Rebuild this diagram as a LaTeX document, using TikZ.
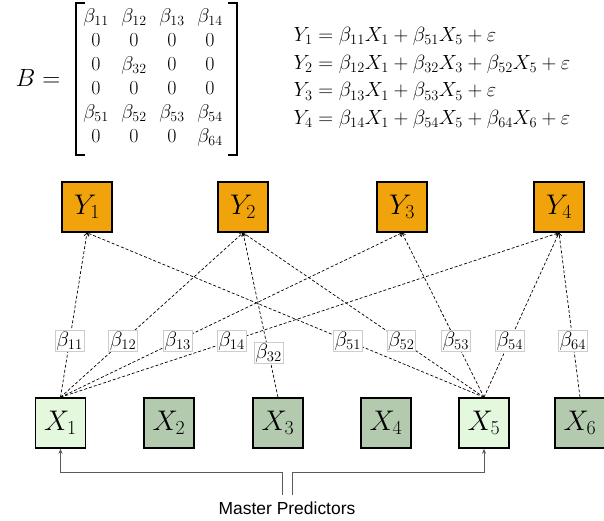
\RequirePackage{fix-cm}
\documentclass[tikz,border=0pt]{standalone}
\usepackage{fontspec}
\setsansfont{Liberation Sans}
\usetikzlibrary{arrows.meta,matrix}

\definecolor{yorange}{HTML}{F0A30A}
\definecolor{xlight}{HTML}{E3F8DC}
\definecolor{xdark}{HTML}{B3CAAE}
\definecolor{feedgray}{HTML}{5A5A5A}

\begin{document}
\begin{tikzpicture}[x=1bp,y=-1bp,
  box/.style={draw=black, line width=1.5bp, minimum width=50bp, minimum height=50bp,
    inner sep=0pt, font=\fontsize{28.5}{32}\selectfont},
  ybox/.style={box, fill=yorange},
  xmaster/.style={box, fill=xlight},
  xother/.style={box, fill=xdark},
  coef/.style={solid, fill=white, draw=gray!40, line width=0.5bp, inner sep=1.2bp,
    font=\fontsize{21}{24}\selectfont},
  link/.style={draw=black, line width=0.7bp, dash pattern=on 3bp off 2bp,
    -{To[length=3.5bp,width=5bp]}},
  feed/.style={draw=feedgray, line width=1bp, -{Stealth[length=5bp,width=4bp]}},
  bracket/.style={draw=black, line width=1.4bp}
]
\useasboundingbox (0,0) rectangle (604,521);

% coefficient matrix B
\node[font=\fontsize{25}{28}\selectfont] (bname) at (38,78) {$B =$};
\matrix (bm) [matrix of math nodes,
  nodes={inner sep=0pt, text height=14bp, text depth=5bp, minimum width=26bp,
    anchor=center, font=\fontsize{20}{24}\selectfont},
  column sep=12bp, row sep=5bp] at (153,78) {
  \beta_{11} & \beta_{12} & \beta_{13} & \beta_{14} \\
  0 & 0 & 0 & 0 \\
  0 & \beta_{32} & 0 & 0 \\
  0 & 0 & 0 & 0 \\
  \beta_{51} & \beta_{52} & \beta_{53} & \beta_{54} \\
  0 & 0 & 0 & \beta_{64} \\
};
\draw[bracket] (85,3) -- (76,3) -- (76,155) -- (85,155);
\draw[bracket] (228,3) -- (237,3) -- (237,155) -- (228,155);

% regression equations
\node[anchor=west, align=left, font=\fontsize{20.6}{27.7}\selectfont] (eqs) at (290,78) {%
  $Y_1 = \beta_{11}X_1 + \beta_{51}X_5 + \varepsilon$\\
  $Y_2 = \beta_{12}X_1 + \beta_{32}X_3 + \beta_{52}X_5 + \varepsilon$\\
  $Y_3 = \beta_{13}X_1 + \beta_{53}X_5 + \varepsilon$\\
  $Y_4 = \beta_{14}X_1 + \beta_{54}X_5 + \beta_{64}X_6 + \varepsilon$};

% responses
\node[ybox] (y1) at (87,207) {$Y_1$};
\node[ybox] (y2) at (243,207) {$Y_2$};
\node[ybox] (y3) at (402,207) {$Y_3$};
\node[ybox] (y4) at (559,207) {$Y_4$};

% predictors
\node[xmaster] (x1) at (60.5,423) {$X_1$};
\node[xother]  (x2) at (169,423) {$X_2$};
\node[xother]  (x3) at (278,423) {$X_3$};
\node[xother]  (x4) at (386,423) {$X_4$};
\node[xmaster] (x5) at (484,423) {$X_5$};
\node[xother]  (x6) at (580,423) {$X_6$};

% nonzero coefficients as dashed links
\draw[link] (x1.north) -- node[coef, pos=0.343] {$\beta_{11}$} (y1.south);
\draw[link] (x1.north) -- node[coef, pos=0.343] {$\beta_{12}$} (y2.south);
\draw[link] (x1.north) -- node[coef, pos=0.343] {$\beta_{13}$} (y3.south);
\draw[link] (x1.north) -- node[coef, pos=0.343] {$\beta_{14}$} (y4.south);
\draw[link] (x3.north) -- node[coef, pos=0.27]  {$\beta_{32}$} (y2.south);
\draw[link] (x5.north) -- node[coef, pos=0.343] {$\beta_{51}$} (y1.south);
\draw[link] (x5.north) -- node[coef, pos=0.343] {$\beta_{52}$} (y2.south);
\draw[link] (x5.north) -- node[coef, pos=0.343] {$\beta_{53}$} (y3.south);
\draw[link] (x5.north) -- node[coef, pos=0.343] {$\beta_{54}$} (y4.south);
\draw[link] (x6.north) -- node[coef, pos=0.343] {$\beta_{64}$} (y4.south);

% master predictors callout
\node[font=\sffamily\fontsize{17.5}{20}\selectfont] (mp) at (287,508) {Master Predictors};
\coordinate (mpl) at (282,495);
\coordinate (mpr) at (292,495);
\draw[feed] (mpl) -- ++(0,-23) -| (x1.south);
\draw[feed] (mpr) -- ++(0,-23) -| (x5.south);
\end{tikzpicture}
\end{document}
